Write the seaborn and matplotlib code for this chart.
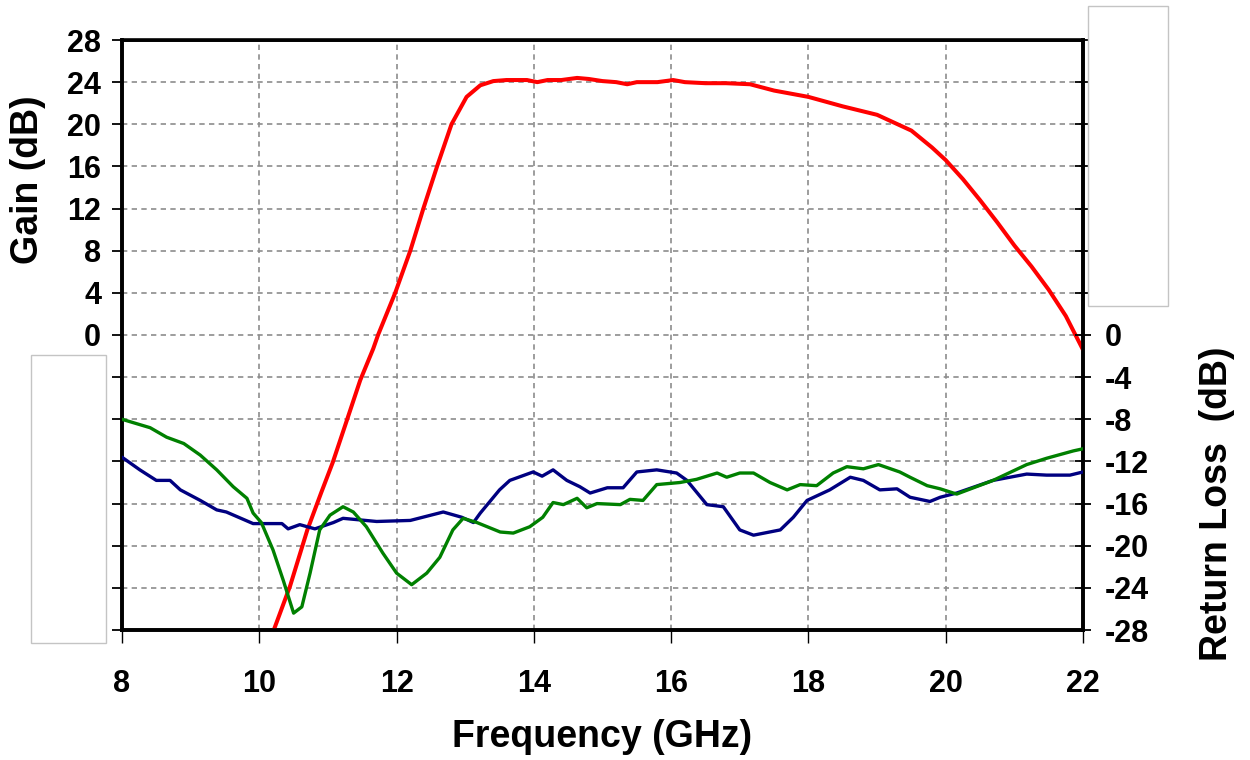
import numpy as np
import pandas as pd
import matplotlib
matplotlib.use("Agg")
import matplotlib.pyplot as plt
from matplotlib.patches import Rectangle
import seaborn as sns

# ---------------- data ----------------
gain_freq = [10.20, 10.45, 10.70, 10.90, 11.07, 11.25, 11.47, 11.66, 11.73, 11.98,
             12.20, 12.39, 12.59, 12.80, 13.02, 13.22, 13.41, 13.60, 13.90, 14.05,
             14.20, 14.40, 14.63, 14.80, 15.00, 15.20, 15.36, 15.50, 15.80, 16.03,
             16.20, 16.50, 16.80, 17.15, 17.50, 18.00, 18.50, 19.00, 19.50, 19.80,
             20.00, 20.25, 20.50, 20.75, 21.00, 21.25, 21.50, 21.75, 22.00]
gain_db = [-28.2, -23.8, -18.5, -15.0, -12.1, -8.6, -4.3, -1.3, 0.0, 4.0,
           8.0, 12.0, 16.0, 20.0, 22.6, 23.7, 24.1, 24.2, 24.2, 24.0,
           24.2, 24.2, 24.4, 24.3, 24.1, 24.0, 23.8, 24.0, 24.0, 24.2,
           24.0, 23.9, 23.9, 23.8, 23.2, 22.6, 21.7, 20.9, 19.4, 17.8,
           16.6, 14.8, 12.8, 10.7, 8.5, 6.5, 4.3, 1.8, -1.4]

s11_freq = [8.00, 8.26, 8.50, 8.70, 8.85, 9.14, 9.38, 9.52, 9.91, 10.33,
            10.42, 10.59, 10.81, 11.08, 11.22, 11.71, 12.20, 12.68, 12.95, 13.12,
            13.22, 13.50, 13.65, 13.99, 14.12, 14.28, 14.48, 14.67, 14.82, 15.07,
            15.30, 15.50, 15.79, 16.08, 16.23, 16.52, 16.76, 17.00, 17.20, 17.59,
            17.78, 17.98, 18.31, 18.61, 18.80, 19.04, 19.29, 19.48, 19.77, 19.92,
            20.16, 20.69, 21.18, 21.47, 21.81, 22.00]
s11_db = [-11.6, -12.8, -13.8, -13.8, -14.7, -15.7, -16.6, -16.8, -17.9, -17.9,
          -18.4, -18.0, -18.4, -17.8, -17.4, -17.7, -17.6, -16.8, -17.3, -17.8,
          -16.9, -14.7, -13.8, -13.0, -13.4, -12.8, -13.8, -14.4, -15.0, -14.5,
          -14.5, -13.0, -12.8, -13.1, -13.8, -16.1, -16.3, -18.5, -19.0, -18.5,
          -17.3, -15.7, -14.7, -13.5, -13.8, -14.7, -14.6, -15.4, -15.8, -15.4,
          -15.0, -13.8, -13.2, -13.3, -13.3, -13.0]

s22_freq = [8.00, 8.41, 8.65, 8.90, 9.14, 9.38, 9.62, 9.82, 9.91, 10.03,
            10.20, 10.35, 10.50, 10.62, 10.74, 10.88, 11.03, 11.22, 11.37, 11.56,
            11.80, 12.00, 12.22, 12.44, 12.63, 12.82, 12.97, 13.17, 13.51, 13.70,
            13.94, 14.13, 14.28, 14.43, 14.63, 14.77, 14.92, 15.26, 15.40, 15.59,
            15.79, 16.13, 16.37, 16.67, 16.81, 17.00, 17.20, 17.44, 17.69, 17.88,
            18.12, 18.36, 18.56, 18.80, 19.02, 19.33, 19.48, 19.73, 19.92, 20.16,
            20.69, 21.18, 21.47, 21.86, 22.00]
s22_db = [-8.0, -8.8, -9.7, -10.3, -11.4, -12.8, -14.4, -15.5, -16.9, -17.8,
          -20.4, -23.3, -26.4, -25.8, -22.6, -18.5, -17.1, -16.3, -16.8, -18.2,
          -20.7, -22.6, -23.7, -22.6, -21.1, -18.5, -17.4, -17.8, -18.7, -18.8,
          -18.2, -17.3, -15.9, -16.1, -15.5, -16.4, -16.0, -16.1, -15.6, -15.7,
          -14.2, -14.0, -13.7, -13.1, -13.5, -13.1, -13.1, -14.0, -14.7, -14.2,
          -14.3, -13.1, -12.5, -12.7, -12.3, -13.0, -13.5, -14.3, -14.6, -15.1,
          -13.8, -12.3, -11.7, -11.0, -10.8]

x_ticks = [8, 10, 12, 14, 16, 18, 20, 22]
y_ticks = list(range(-28, 29, 4))

# ---------------- style ----------------
sns.set_theme(style="white")
plt.rcParams["font.family"] = ["Liberation Sans", "DejaVu Sans"]
plt.rcParams["font.weight"] = "bold"
for key in ["text.color", "axes.labelcolor", "xtick.color", "ytick.color"]:
    plt.rcParams[key] = "black"

W, H = 1250, 760
fig = plt.figure(figsize=(W / 100, H / 100), dpi=100)
fig.patch.set_facecolor("white")

L, R, T, B = 122, 1083, 40, 630
ax = fig.add_axes([L / W, 1 - B / H, (R - L) / W, (B - T) / H])
ax.set_facecolor("white")

df_gain = pd.DataFrame({"f": gain_freq, "v": gain_db})
df_s11 = pd.DataFrame({"f": s11_freq, "v": s11_db})
df_s22 = pd.DataFrame({"f": s22_freq, "v": s22_db})

sns.lineplot(data=df_gain, x="f", y="v", ax=ax, color="#ff0000", lw=2.9, zorder=5)

ax.set_xlim(8, 22)
ax.set_ylim(-28, 28)
ax.set_xticks(x_ticks)
ax.set_yticks(y_ticks)
ax.set_xticklabels([str(v) for v in x_ticks], fontsize=22, fontweight="bold", color="black")
ax.set_yticklabels([str(v) for v in y_ticks], fontsize=22, fontweight="bold", color="black")
ax.set_xlabel("")
ax.set_ylabel("")
ax.grid(True, color="#8c8c8c", linestyle=(0, (3.2, 2.6)), lw=1.2)
ax.tick_params(axis="y", direction="out", length=7, width=1.3, pad=8, colors="black",
               left=True, labelleft=True)
ax.tick_params(axis="x", direction="out", length=9, width=1.0, pad=19, colors="black",
               bottom=True)
for side, sp in ax.spines.items():
    sp.set_visible(True)
    sp.set_color("black")
    sp.set_linewidth(2.6 if side != "top" else 2.0)

ax2 = ax.twinx()
sns.lineplot(data=df_s11, x="f", y="v", ax=ax2, color="#000080", lw=2.4, zorder=4)
sns.lineplot(data=df_s22, x="f", y="v", ax=ax2, color="#008000", lw=2.4, zorder=4)
ax2.set_xlim(8, 22)
ax2.set_ylim(-28, 28)
ax2.set_yticks(y_ticks)
ax2.set_yticklabels([str(v) for v in y_ticks], fontsize=22, fontweight="bold", color="black")
ax2.set_ylabel("")
ax2.set_xlabel("")
ax2.grid(False)
ax2.tick_params(axis="y", direction="inout", length=12, width=1.3, pad=10, colors="black",
                right=True, labelright=True)
for side, sp in ax2.spines.items():
    sp.set_color("black")
    sp.set_linewidth(2.6)

# axis titles
fig.text(28 / W, 1 - 180 / H, "Gain (dB)", rotation=90, ha="center", va="center",
         fontsize=27, fontweight="bold", color="black")
fig.text(1217 / W, 1 - 504 / H, "Return Loss  (dB)", rotation=90, ha="center",
         va="center", fontsize=27, fontweight="bold", color="black")
fig.text(602 / W, 1 - 737 / H, "Frequency (GHz)", ha="center", va="center",
         fontsize=27, fontweight="bold", color="black")

# white cover boxes over the unused tick labels
fig.patches.append(Rectangle((31 / W, 1 - 643 / H), 75 / W, 288 / H,
                             transform=fig.transFigure, facecolor="white",
                             edgecolor="#c4c4c4", lw=1.0, zorder=10))
fig.patches.append(Rectangle((1088 / W, 1 - 306 / H), 80 / W, 300 / H,
                             transform=fig.transFigure, facecolor="white",
                             edgecolor="#c4c4c4", lw=1.0, zorder=10))

fig.savefig("out.png", dpi=100, facecolor="white")
